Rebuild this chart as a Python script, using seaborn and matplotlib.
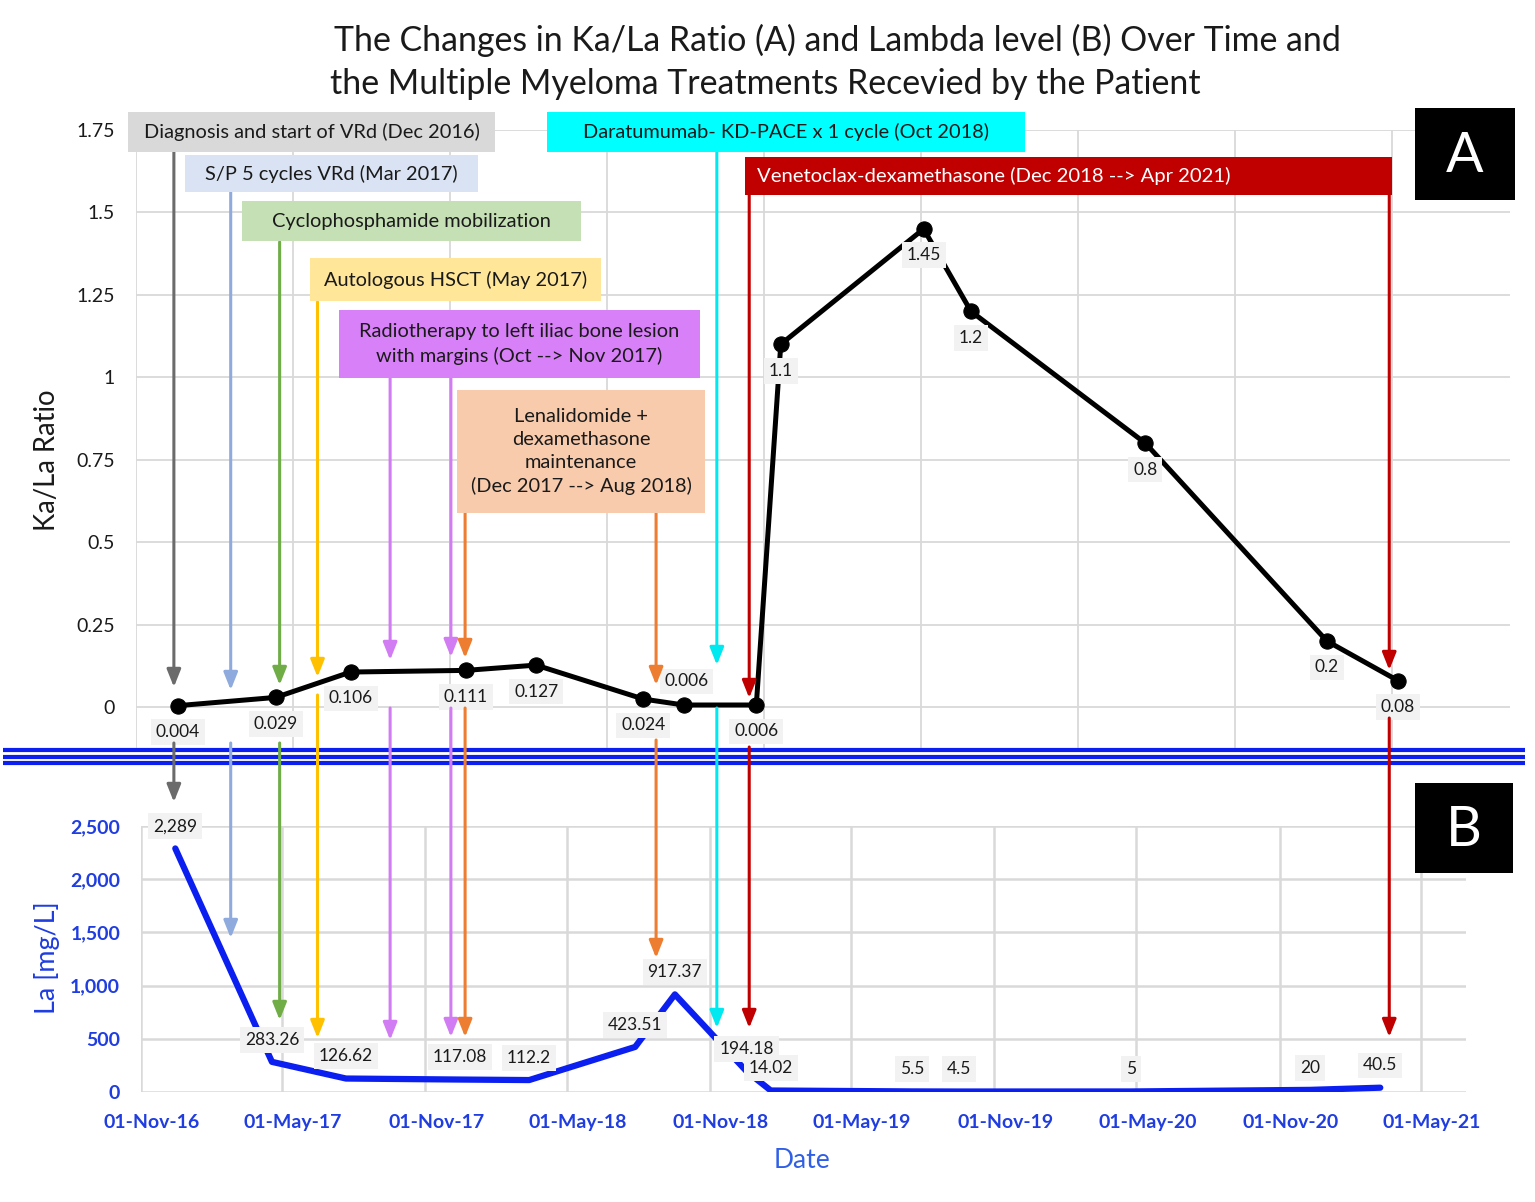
import numpy as np
import pandas as pd
import matplotlib
matplotlib.use("Agg")
import matplotlib.pyplot as plt
import matplotlib.dates as mdates
import matplotlib.transforms as mtransforms
from matplotlib.patches import Rectangle
import seaborn as sns

# ---------------- data ----------------
dates = ["2016-12-15", "2017-04-18", "2017-07-22", "2017-12-15", "2018-03-14",
         "2018-07-28", "2018-09-17", "2018-12-18", "2019-01-18", "2019-07-18",
         "2019-09-16", "2020-04-24", "2020-12-10", "2021-03-10"]
ratio = [0.004, 0.029, 0.106, 0.111, 0.127, 0.024, 0.006, 0.006, 1.1, 1.45, 1.2, 0.8, 0.2, 0.08]
ratio_labels = ["0.004", "0.029", "0.106", "0.111", "0.127", "0.024", "0.006", "0.006",
                "1.1", "1.45", "1.2", "0.8", "0.2", "0.08"]
lam = [2289, 283.26, 126.62, 117.08, 112.2, 423.51, 917.37, 194.18, 14.02, 5.5, 4.5, 5, 20, 40.5]
lam_labels = ["2,289", "283.26", "126.62", "117.08", "112.2", "423.51", "917.37", "194.18",
              "14.02", "5.5", "4.5", "5", "20", "40.5"]

ratio_ticks = [0, 0.25, 0.5, 0.75, 1, 1.25, 1.5, 1.75]
ratio_tick_labels = ["0", "0.25", "0.5", "0.75", "1", "1.25", "1.5", "1.75"]
lam_ticks = [0, 500, 1000, 1500, 2000, 2500]
lam_tick_labels = ["0", "500", "1,000", "1,500", "2,000", "2,500"]

# treatments: text, box fill, arrow colour, arrow event dates
treat_text = ["Diagnosis and start of VRd (Dec 2016)",
              "S/P 5 cycles VRd (Mar 2017)",
              "Cyclophosphamide mobilization",
              "Autologous HSCT (May 2017)",
              "Radiotherapy to left iliac bone lesion\nwith margins (Oct --> Nov 2017)",
              "Lenalidomide +\ndexamethasone\nmaintenance\n(Dec 2017 --> Aug 2018)",
              "Daratumumab- KD-PACE x 1 cycle (Oct 2018)",
              "Venetoclax-dexamethasone (Dec 2018 --> Apr 2021)"]
treat_fill = ["#d9d9d9", "#dae3f3", "#c5e0b4", "#ffe699", "#d780f8", "#f8cbad", "#00ffff", "#c00000"]
treat_arrow = ["#6b6b6b", "#8faadc", "#70ad47", "#ffc000", "#d27cf3", "#ed7d31", "#00e8f0", "#c00000"]
treat_events = [["2016-12-10"], ["2017-02-20"], ["2017-04-23"], ["2017-06-10"],
                ["2017-09-10", "2017-11-26"], ["2017-12-14", "2018-08-13"],
                ["2018-10-29"], ["2018-12-09", "2021-02-27"]]

df = pd.DataFrame({"date": pd.to_datetime(dates), "ratio": ratio, "lam": lam})

# ---------------- figure ----------------
sns.set_style("white")
plt.rcParams["font.family"] = ["Lato", "DejaVu Sans"]

W, H = 1535, 1202
fig = plt.figure(figsize=(W / 100, H / 100), dpi=100)


def frac(l, t, r, b):
    return [l / W, 1 - b / H, (r - l) / W, (b - t) / H]


GRID = "#d9d9d9"
TXT = "#1a1a1a"
BLUE_TXT = "#1f3de0"

# ---- panel A ----
ax1 = fig.add_axes(frac(136, 130, 1510, 748))
sns.lineplot(data=df, x="date", y="ratio", ax=ax1, color="black", lw=3.6,
             marker="o", markersize=11, markeredgecolor="black", zorder=4)
ax1.set_xlim(pd.Timestamp("2016-10-23"), pd.Timestamp("2021-07-30"))
ax1.set_ylim(-0.1244, 1.75)
ax1.set_xticks(pd.date_range("2016-10-23", periods=9, freq="199D"))
ax1.set_xticklabels([])
ax1.set_yticks(ratio_ticks)
ax1.set_yticklabels(ratio_tick_labels, fontsize=14, color=TXT)
ax1.tick_params(length=0, pad=15)
ax1.grid(True, color=GRID, lw=1.3)
ax1.set_axisbelow(True)
for s in ax1.spines.values():
    s.set_visible(False)
ax1.set_xlabel("")
ax1.set_ylabel("")

lab_box = dict(boxstyle="square,pad=0.28", fc="#f2f2f2", ec="none")
for i, (d, v, t) in enumerate(zip(df["date"], ratio, ratio_labels)):
    dy, dx = (-19, 0) if i != 6 else (17, 2)
    ax1.annotate(t, (d, v), xytext=(dx, dy), textcoords="offset points",
                 ha="center", va="center", fontsize=12.5, color=TXT,
                 bbox=lab_box, zorder=5, annotation_clip=False)

# ---- panel B ----
ax2 = fig.add_axes(frac(141, 826, 1466, 1092))
sns.lineplot(data=df, x="date", y="lam", ax=ax2, color="#0a1ff0", lw=4.5, zorder=4)
ax2.set_xlim(pd.Timestamp("2016-11-01"), pd.Timestamp("2021-06-28"))
ax2.set_ylim(0, 2500)
ax2.set_xticks(pd.date_range("2016-11-01", "2021-05-01", freq="6MS"))
ax2.xaxis.set_major_formatter(mdates.DateFormatter("%d-%b-%y"))
ax2.set_yticks(lam_ticks)
ax2.set_yticklabels(lam_tick_labels)
ax2.tick_params(axis="y", length=0, pad=15)
ax2.tick_params(axis="x", length=0, pad=16)
ax2.grid(True, color=GRID, lw=1.8)
ax2.set_axisbelow(True)
for s in ax2.spines.values():
    s.set_visible(False)
ax2.set_xlabel("")
ax2.set_ylabel("")
shift = mtransforms.ScaledTranslation(11 / 100, 0, fig.dpi_scale_trans)
for tk in ax2.xaxis.get_major_ticks():
    tk.label1.set_transform(tk.label1.get_transform() + shift)
for lbl in ax2.get_xticklabels() + ax2.get_yticklabels():
    lbl.set_fontweight("bold")
    lbl.set_color(BLUE_TXT)
    lbl.set_fontsize(14)
for d, v, t in zip(df["date"], lam, lam_labels):
    ax2.annotate(t, (d, v), xytext=(0, 16), textcoords="offset points",
                 ha="center", va="center", fontsize=12.5, color=TXT,
                 bbox=lab_box, zorder=5, annotation_clip=False)

# ---- overlay in pixel coordinates ----
ov = fig.add_axes([0, 0, 1, 1], zorder=10)
ov.set_xlim(0, W)
ov.set_ylim(H, 0)
ov.axis("off")
ov.patch.set_alpha(0)


def date_px(d):
    return ax1.transData.transform((mdates.date2num(pd.Timestamp(d)), 0))[0]


# separator (three blue rules)
for yy in (750, 756.5, 763):
    ov.plot([3, 1525], [yy, yy], color="#0a1ff0", lw=3.0, solid_capstyle="butt")

# treatment boxes (l, t, r, b)
boxes = [(128, 112, 495, 152), (185, 155, 478, 192), (242, 201, 581, 241),
         (310, 258, 601, 301), (339, 310, 700, 378), (457, 390, 705, 513),
         (547, 112, 1025, 152), (745, 157, 1392, 195)]
for k, ((l, t, r, b), txt, fc) in enumerate(zip(boxes, treat_text, treat_fill)):
    ov.add_patch(Rectangle((l, t), r - l, b - t, fc=fc, ec="none", zorder=3))
    if k == 7:
        ov.text(l + 12, (t + b) / 2, txt, ha="left", va="center", fontsize=14.6,
                color="white", zorder=4)
    else:
        ov.text((l + r) / 2, (t + b) / 2, txt, ha="center", va="center",
                fontsize=14.4, color=TXT, zorder=4, linespacing=1.4)

# arrow segments per event: (top start, top tip, bottom start, bottom tip)
segs = [[(152, 687, 743, 802)],
        [(192, 690, 743, 938)],
        [(242, 685, 743, 1020)],
        [(302, 677, 695, 1038)],
        [(378, 660, 708, 1040), (378, 657, 708, 1037)],
        [(513, 658, 708, 1037), (513, 685, 740, 958)],
        [(152, 665, 708, 1028)],
        [(195, 698, 747, 1028), (195, 670, 718, 1037)]]
astyle = "-|>,head_length=0.75,head_width=0.3"
for evs, sg, col in zip(treat_events, segs, treat_arrow):
    for d, (a0, a1, b0, b1) in zip(evs, sg):
        x = date_px(d)
        for s0, s1 in ((a0, a1), (b0, b1)):
            ov.annotate("", xy=(x, s1), xytext=(x, s0),
                        arrowprops=dict(arrowstyle=astyle, color=col, lw=2.2,
                                        mutation_scale=14, shrinkA=0, shrinkB=0),
                        zorder=2)

# panel letters
for (l, t, r, b), letter in (((1415, 108, 1515, 200), "A"), ((1415, 783, 1513, 873), "B")):
    ov.add_patch(Rectangle((l, t), r - l, b - t, fc="black", ec="none", zorder=3))
    ov.text((l + r) / 2, (t + b) / 2 + 2, letter, ha="center", va="center",
            fontsize=40, color="white", zorder=4)

# titles and axis labels
ov.text(334, 40, "The Changes in Ka/La Ratio (A) and Lambda level (B) Over Time and",
        ha="left", va="center", fontsize=24.4, color=TXT)
ov.text(330, 84, "the Multiple Myeloma Treatments Recevied by the Patient",
        ha="left", va="center", fontsize=24.4, color=TXT)
ov.text(47, 460, "Ka/La Ratio", rotation=90, ha="center", va="center", fontsize=19.8, color=TXT)
ov.text(47, 958, "La [mg/L]", rotation=90, ha="center", va="center", fontsize=19.4, color=BLUE_TXT)
ov.text(802, 1160, "Date", ha="center", va="center", fontsize=19, color="#2f5fe6")

fig.savefig("out.png", dpi=100)
